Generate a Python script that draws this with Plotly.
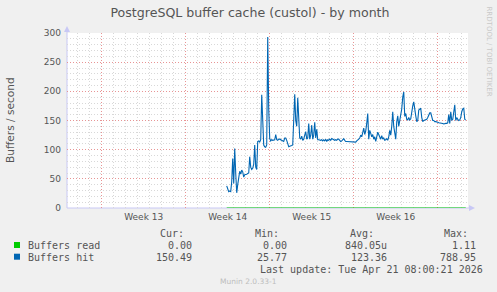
import pandas as pd
import plotly.graph_objects as go

# ---------------- data ----------------
title_text = "PostgreSQL buffer cache (custol) - by month"
y_title = "Buffers / second"
week_labels = ["Week 13", "Week 14", "Week 15", "Week 16"]
week_mid = ["2026-03-26 12:00", "2026-04-02 12:00", "2026-04-09 12:00", "2026-04-16 12:00"]
series_start = "2026-04-02 10:00"
series_step = "2h"

buffers_hit = [
    38, 30, 28, 29, 28, 45, 85, 42, 102, 60,
    26, 40, 55, 63, 58, 65, 62, 53, 57, 57,
    58, 59, 60, 88, 70, 66, 68, 75, 108, 70,
    66, 114, 115, 113, 117, 194, 140, 108, 105, 104,
    108, 293, 170, 119, 115, 117, 116, 117, 117, 126,
    117, 116, 118, 118, 117, 116, 116, 114, 120, 120,
    116, 108, 105, 106, 106, 107, 108, 150, 195, 150,
    140, 189, 140, 120, 118, 123, 116, 118, 125, 131,
    118, 120, 145, 118, 125, 142, 118, 125, 147, 120,
    135, 117, 117, 116, 116, 117, 115, 117, 115, 118,
    114, 117, 116, 118, 116, 119, 118, 117, 116, 117,
    116, 118, 118, 116, 114, 115, 118, 119, 116, 114,
    114, 114, 114, 114, 114, 114, 114, 114, 113, 113,
    115, 116, 118, 120, 125, 122, 128, 137, 126, 132,
    145, 162, 118, 133, 128, 122, 126, 118, 122, 114,
    122, 130, 126, 122, 118, 124, 118, 120, 116, 117,
    119, 116, 122, 133, 125, 140, 165, 140, 125, 118,
    148, 158, 140, 150, 160, 170, 190, 199, 157, 162,
    152, 151, 155, 151, 153, 168, 175, 182, 165, 158,
    148, 150, 168, 170, 171, 155, 148, 150, 151, 152,
    152, 155, 159, 163, 163, 158, 150, 150, 148, 148,
    148, 147, 146, 146, 145, 145, 145, 144, 145, 145,
    145, 146, 160, 145, 165, 150, 152, 165, 177, 150,
    155, 152, 150, 151, 155, 165, 170, 171, 152, 150.49,
]
buffers_read = [0.0] * len(buffers_hit)
buffers_read[60] = 1.11

legend_names = ["Buffers read", "Buffers hit"]
legend_colors = ["#00CC00", "#0066B3"]
stat_headers = ["Cur:", "Min:", "Avg:", "Max:"]
stat_rows = [
    ["0.00", "0.00", "840.05u", "1.11"],
    ["150.49", "25.77", "123.36", "788.95"],
]
last_update = "Last update: Tue Apr 21 08:00:21 2026"
footer = "Munin 2.0.33-1"
side_text = "RRDTOOL / TOBI OETIKER"

x_range = ["2026-03-20 02:38", "2026-04-22 12:29"]
week_start = "2026-03-23"

times = pd.date_range(series_start, periods=len(buffers_hit), freq=series_step)

# ---------------- layout helpers ----------------
W, H = 497, 292
PL, PR, PT, PB = 67, 468, 33, 208


def fx(px):
    return (px - PL) / (PR - PL)


def fy(py):
    return (PB - py) / (PB - PT)


DAY_MS = 86400000
text_col = "#555555"
axis_col = "#C8C8F5"
major_col = "#E89494"
minor_col = "#D8D8D8"

fig = go.Figure()
fig.add_trace(go.Scatter(x=times, y=buffers_read, mode="lines", name=legend_names[0],
                         line=dict(color=legend_colors[0], width=1.1), xaxis="x2", yaxis="y"))
fig.add_trace(go.Scatter(x=times, y=buffers_hit, mode="lines", name=legend_names[1],
                         line=dict(color=legend_colors[1], width=1.1)))

fig.update_layout(
    width=W, height=H,
    margin=dict(l=PL, r=W - PR, t=PT, b=H - PB, pad=0),
    paper_bgcolor="#F0F0F0", plot_bgcolor="#FFFFFF",
    showlegend=False,
    font=dict(family="DejaVu Sans", size=9, color=text_col),
    title=dict(text=title_text, x=0.503, xanchor="center", y=1 - 13 / H, yanchor="middle",
               font=dict(family="DejaVu Sans", size=12.6, color=text_col)),
    xaxis=dict(type="date", range=x_range, tick0=week_start, dtick=7 * DAY_MS,
               showgrid=True, gridcolor=major_col, griddash="1px,2px", gridwidth=1,
               showticklabels=False, ticks="", zeroline=False, showline=False,
               minor=dict(tick0=week_start, dtick=DAY_MS, showgrid=True,
                          gridcolor=minor_col, griddash="1px,2px", gridwidth=1)),
    xaxis2=dict(type="date", range=x_range, overlaying="x", side="bottom", anchor="y",
                tickmode="array", tickvals=week_mid, ticktext=week_labels,
                showgrid=False, ticks="", ticklabelstandoff=2,
                tickfont=dict(family="DejaVu Sans", size=9, color=text_col)),
    yaxis=dict(range=[0, 300], tick0=0, dtick=50, showgrid=True, gridcolor=major_col,
               griddash="1px,2px", gridwidth=1, zeroline=False, showline=False, ticks="",
               ticklabelstandoff=5,
               tickfont=dict(family="DejaVu Sans", size=9, color=text_col),
               minor=dict(tick0=0, dtick=10, showgrid=True, gridcolor=minor_col,
                          griddash="1px,2px", gridwidth=1)),
)

shapes = []
# axis lines with arrows
shapes.append(dict(type="line", xref="paper", yref="paper", x0=0, x1=0, y0=0, y1=fy(29),
                   line=dict(color=axis_col, width=1), layer="between"))
shapes.append(dict(type="line", xref="paper", yref="paper", x0=0, x1=fx(470), y0=0, y1=0,
                   line=dict(color=axis_col, width=1), layer="between"))
shapes.append(dict(type="path", xref="paper", yref="paper",
                   path=f"M {fx(64)} {fy(32)} L {fx(70)} {fy(32)} L {fx(67)} {fy(26)} Z",
                   fillcolor=axis_col, line=dict(width=0), layer="above"))
shapes.append(dict(type="path", xref="paper", yref="paper",
                   path=f"M {fx(469)} {fy(205)} L {fx(469)} {fy(211)} L {fx(475)} {fy(208)} Z",
                   fillcolor=axis_col, line=dict(width=0), layer="above"))
# legend swatches
for i, col in enumerate(legend_colors):
    yc = 245 + i * 11.7
    shapes.append(dict(type="rect", xref="paper", yref="paper",
                       x0=fx(14), x1=fx(20), y0=fy(yc - 3), y1=fy(yc + 3),
                       fillcolor=col, line=dict(width=0)))
fig.update_layout(shapes=shapes)

mono = dict(family="DejaVu Sans Mono", size=10, color=text_col)
ann = []
ann.append(dict(text=y_title, textangle=-90, x=fx(10), y=fy(120), xref="paper", yref="paper",
                xanchor="center", yanchor="middle", showarrow=False,
                font=dict(family="DejaVu Sans", size=10.6, color=text_col)))
header_right = [185, 280, 375, 469]
value_right = [193, 288, 388, 477]
for h, xr in zip(stat_headers, header_right):
    ann.append(dict(text=h, x=fx(xr), y=fy(233.5), xref="paper", yref="paper",
                    xanchor="right", yanchor="middle", showarrow=False, font=mono, borderpad=0))
for r, (name, row) in enumerate(zip(legend_names, stat_rows)):
    yc = 245.7 + r * 11.7
    ann.append(dict(text=name, x=fx(26.5), y=fy(yc), xref="paper", yref="paper",
                    xanchor="left", yanchor="middle", showarrow=False, font=mono, borderpad=0))
    for v, xr in zip(row, value_right):
        ann.append(dict(text=v, x=fx(xr), y=fy(yc), xref="paper", yref="paper",
                        xanchor="right", yanchor="middle", showarrow=False, font=mono, borderpad=0))
ann.append(dict(text=last_update, x=fx(483.5), y=fy(269.7), xref="paper", yref="paper",
                xanchor="right", yanchor="middle", showarrow=False, font=mono, borderpad=0))
ann.append(dict(text=footer, x=fx(248), y=fy(281), xref="paper", yref="paper",
                xanchor="center", yanchor="middle", showarrow=False, borderpad=0,
                font=dict(family="DejaVu Sans", size=7.5, color="#BDBDBD")))
ann.append(dict(text=side_text, textangle=90, x=fx(488.5), y=fy(51), xref="paper", yref="paper",
                xanchor="center", yanchor="middle", showarrow=False, borderpad=0,
                font=dict(family="DejaVu Sans", size=7, color="#C8C8C8")))
fig.update_layout(annotations=ann)

fig.write_html("out.html")
